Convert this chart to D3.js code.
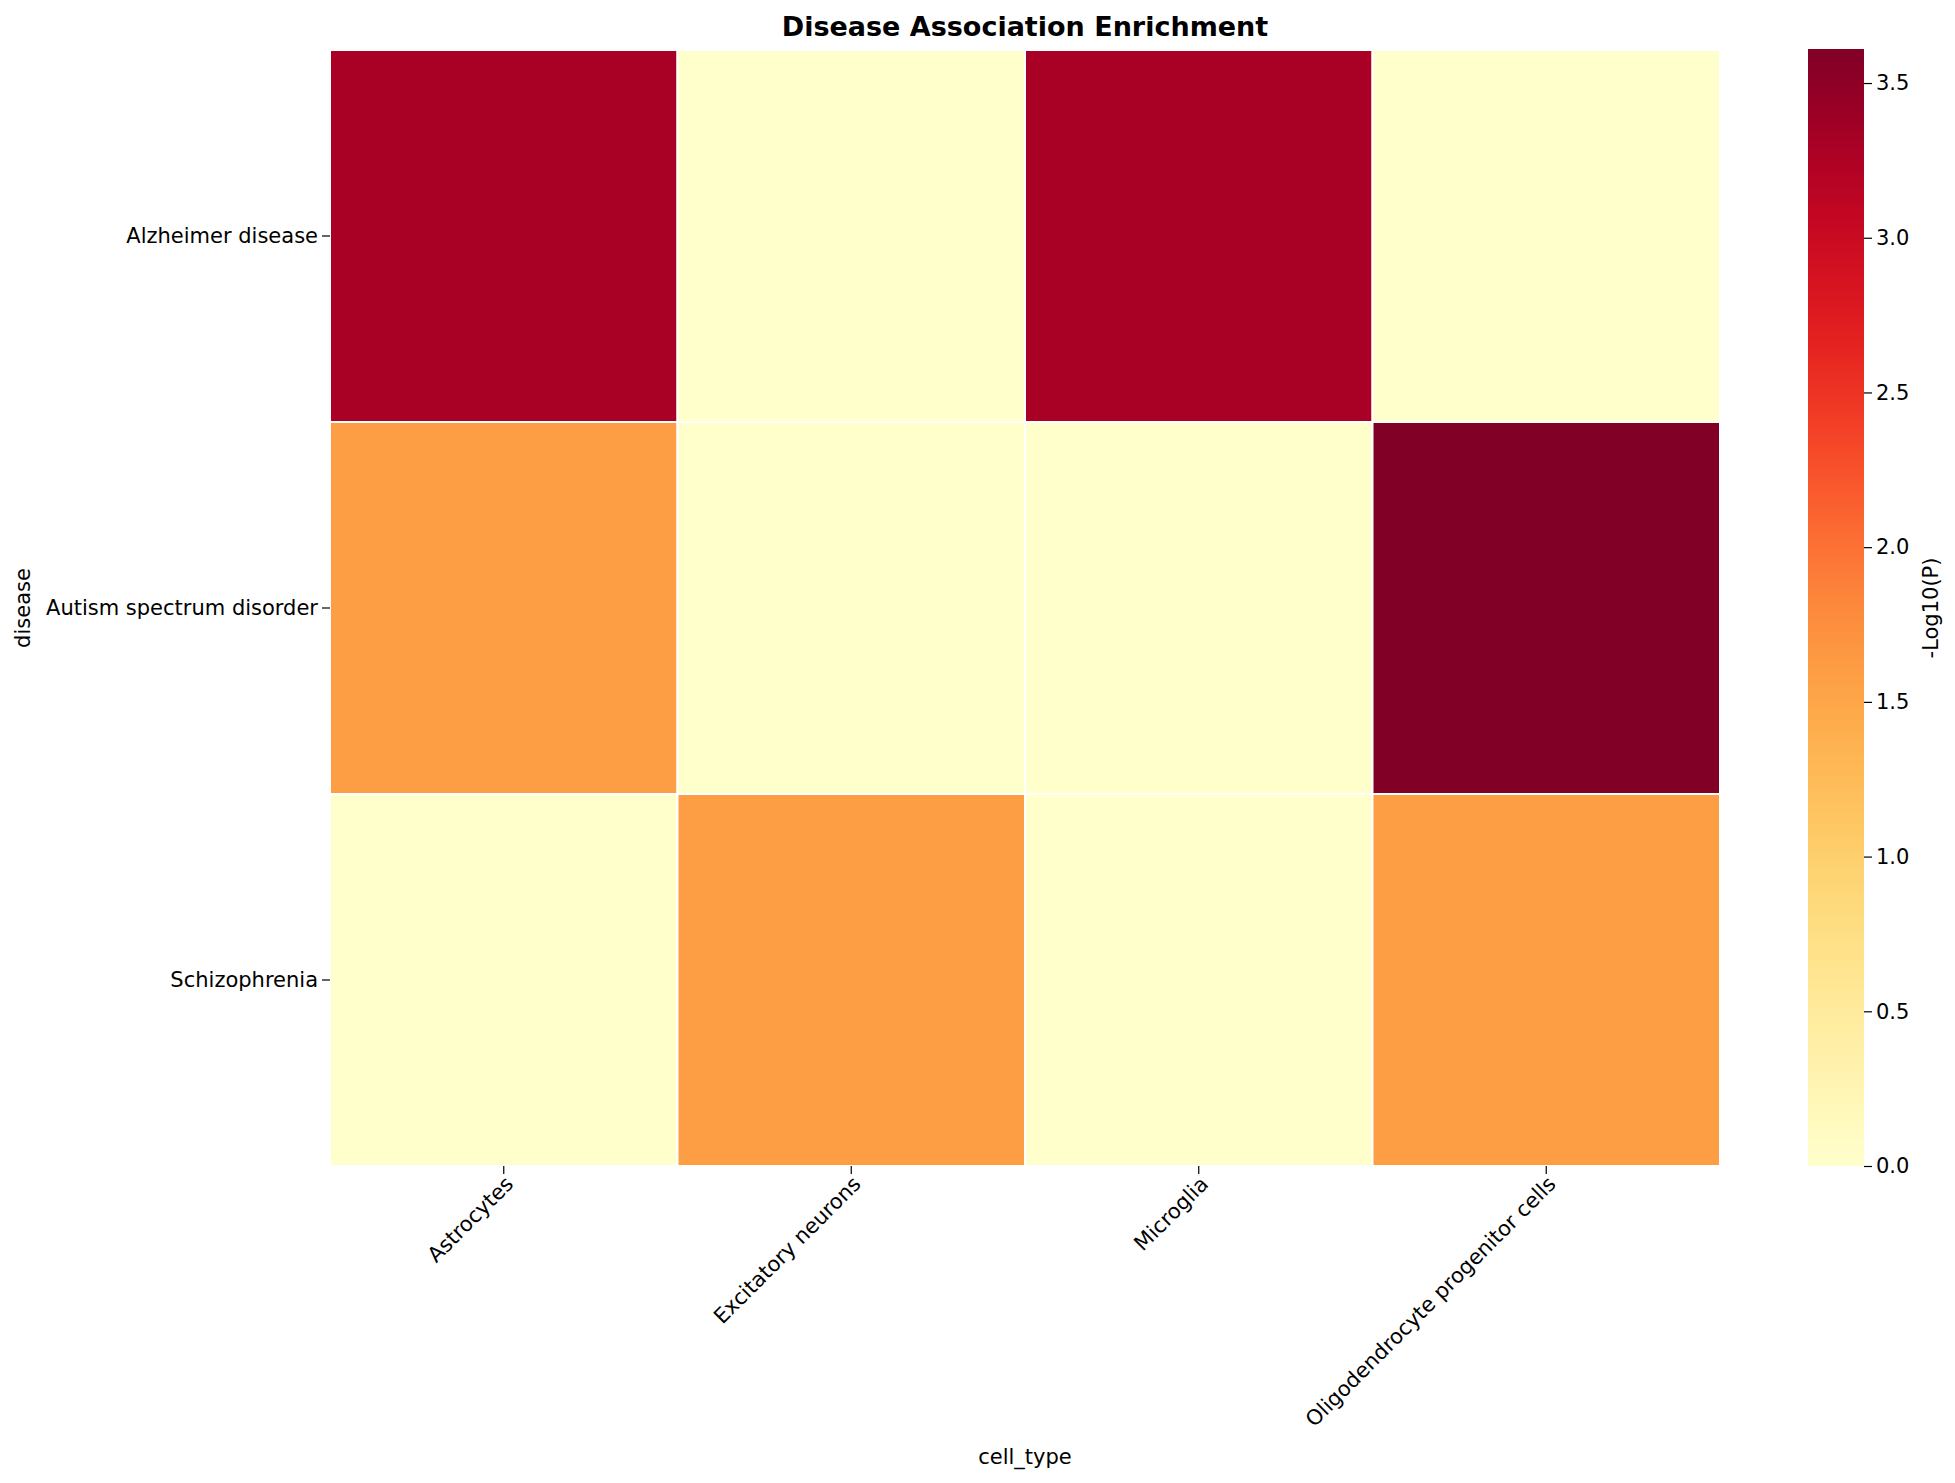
<!DOCTYPE html>
<html><head><meta charset="utf-8">
<script src="https://cdn.jsdelivr.net/npm/d3@7"></script>
<style>body{margin:0;background:#fff}text{font-family:"DejaVu Sans",sans-serif}</style>
</head><body><svg width="1955" height="1483"></svg>
<script>
const cellTypes = ["Astrocytes", "Excitatory neurons", "Microglia", "Oligodendrocyte progenitor cells"];
const diseases = ["Alzheimer disease", "Autism spectrum disorder", "Schizophrenia"];
const values = [
  [3.3, 0, 3.3, 0],
  [1.6, 0, 0, 3.61],
  [0, 1.6, 0, 1.6]
];
const cbTicks = [0, 0.5, 1, 1.5, 2, 2.5, 3, 3.5];
const vmax = 3.61;

let svg = d3.select("svg");
let mLeft = 330, mRight = 1720, mTop = 50, mBottom = 1166;
let fs = "21px";
let x = d3.scaleBand().domain(cellTypes).range([mLeft, mRight]);
let y = d3.scaleBand().domain(diseases).range([mTop, mBottom]);
let color = d3.scaleSequential(d3.interpolateYlOrRd).domain([0, vmax]);

let cells = [];
values.forEach((row, i) => row.forEach((v, j) => cells.push({d: diseases[i], c: cellTypes[j], v})));
svg.append("g").selectAll("rect").data(cells).enter().append("rect")
  .attr("x", d => x(d.c)).attr("y", d => y(d.d))
  .attr("width", x.bandwidth()).attr("height", y.bandwidth())
  .attr("fill", d => color(d.v)).attr("stroke", "#fff").attr("stroke-width", 2);

let xa = svg.append("g").attr("transform", `translate(0,${mBottom})`)
  .call(d3.axisBottom(x).tickSize(8).tickSizeOuter(0));
xa.select(".domain").remove();
xa.selectAll("line").attr("stroke-width", 1.2);
xa.selectAll("text").style("font-size", fs).attr("text-anchor", "end")
  .attr("x", -6).attr("y", 14).attr("dy", "0.35em").attr("transform", "rotate(-45)");

let ya = svg.append("g").attr("transform", `translate(${mLeft},0)`)
  .call(d3.axisLeft(y).tickSize(8).tickSizeOuter(0));
ya.select(".domain").remove();
ya.selectAll("line").attr("stroke-width", 1.2);
ya.selectAll("text").style("font-size", fs).attr("x", -12);

svg.append("text").attr("x", (mLeft + mRight) / 2).attr("y", 36).attr("text-anchor", "middle")
  .style("font-size", "27px").style("font-weight", "bold").text("Disease Association Enrichment");
svg.append("text").attr("x", (mLeft + mRight) / 2).attr("y", 1464).attr("text-anchor", "middle")
  .style("font-size", fs).text("cell_type");
svg.append("text").attr("transform", `translate(30,${(mTop + mBottom) / 2}) rotate(-90)`)
  .attr("text-anchor", "middle").style("font-size", fs).text("disease");

// colorbar
let cbX = 1808, cbW = 56;
let cy = d3.scaleLinear().domain([0, vmax]).range([mBottom, 49]);
let grad = svg.append("defs").append("linearGradient").attr("id", "g")
  .attr("x1", 0).attr("y1", 1).attr("x2", 0).attr("y2", 0);
d3.range(0, 1.001, 0.05).forEach(t => grad.append("stop").attr("offset", t).attr("stop-color", color(t * vmax)));
svg.append("rect").attr("x", cbX).attr("y", 49).attr("width", cbW).attr("height", mBottom - 49).attr("fill", "url(#g)");
let ca = svg.append("g").attr("transform", `translate(${cbX + cbW},0)`)
  .call(d3.axisRight(cy).tickValues(cbTicks).tickFormat(d3.format(".1f")).tickSize(8));
ca.select(".domain").remove();
ca.selectAll("line").attr("stroke-width", 1.2);
ca.selectAll("text").style("font-size", fs).attr("x", 12);
svg.append("text").attr("transform", `translate(1938,${(mTop + mBottom) / 2}) rotate(-90)`)
  .attr("text-anchor", "middle").style("font-size", fs).text("-Log10(P)");
</script></body></html>
